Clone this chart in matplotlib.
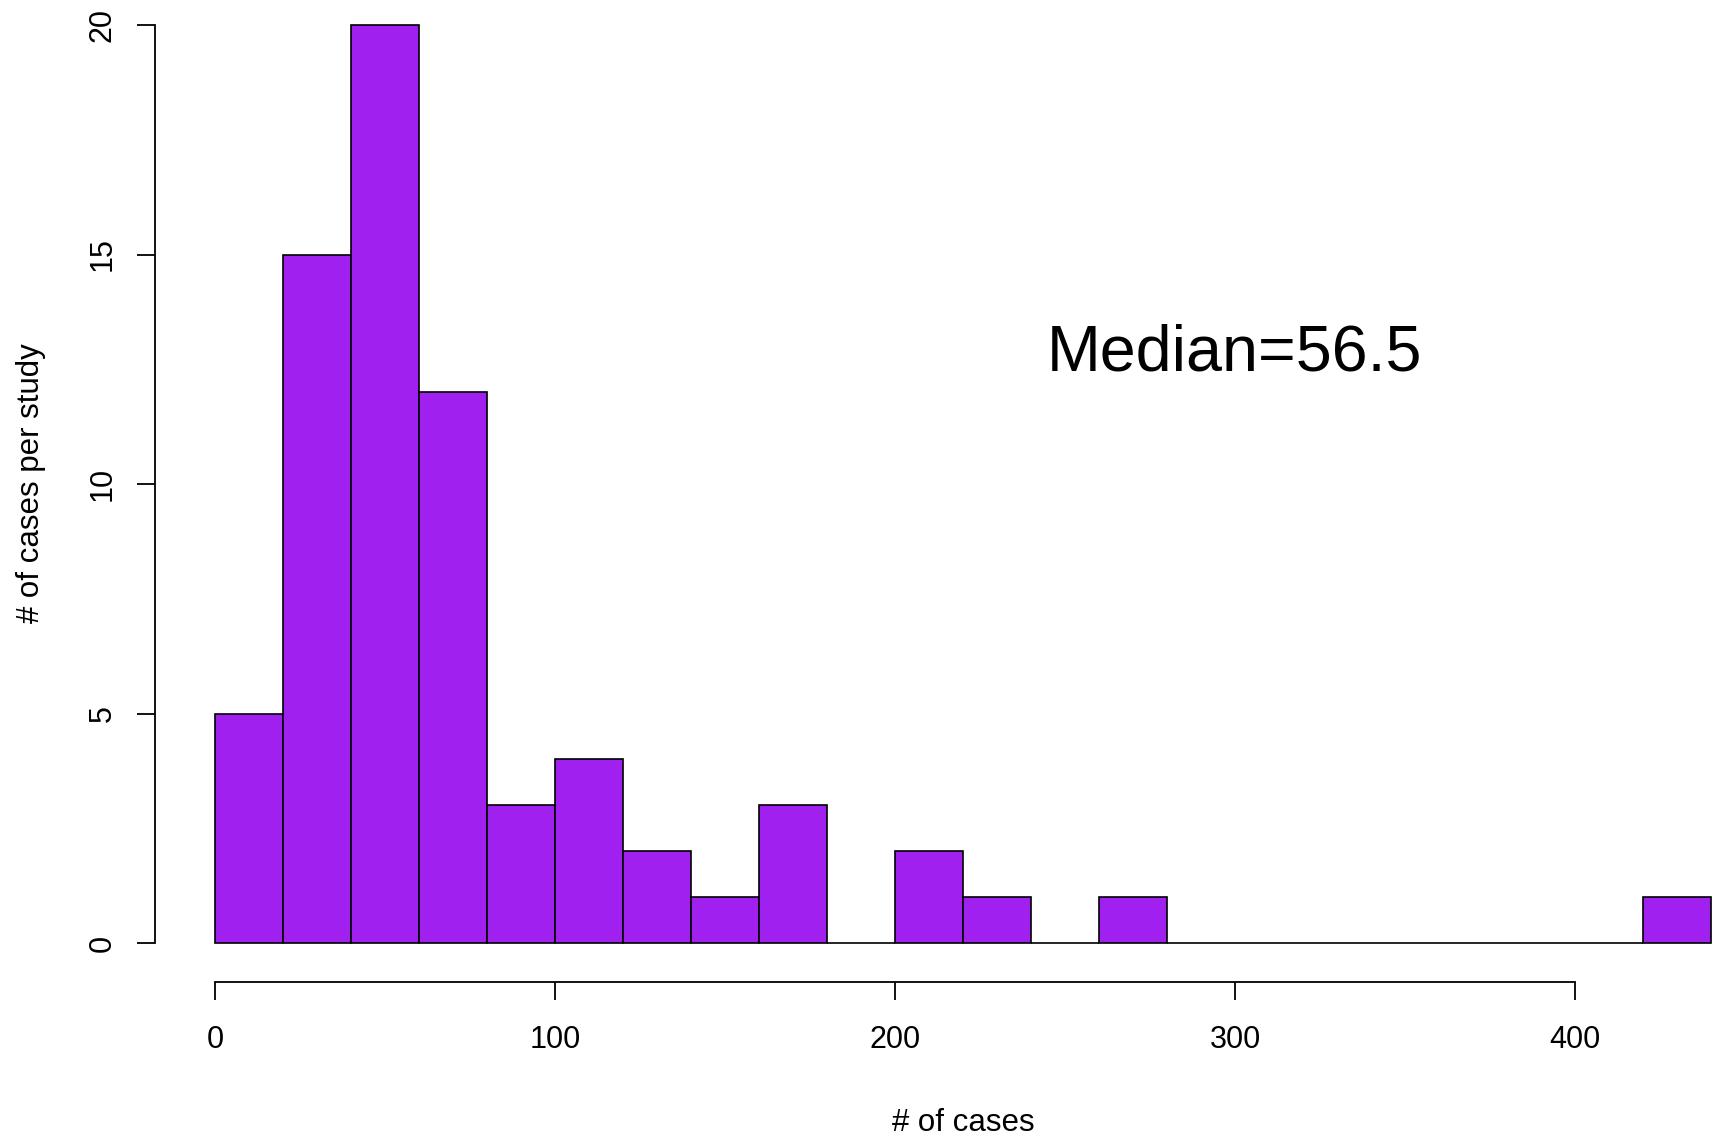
import numpy as np
import matplotlib.pyplot as plt

plt.rcParams['font.family'] = ['Liberation Sans', 'DejaVu Sans']

# histogram of cases per study, bins of width 20
bin_edges = [0, 20, 40, 60, 80, 100, 120, 140, 160, 180, 200, 220, 240, 260,
             280, 300, 320, 340, 360, 380, 400, 420, 440]
counts = [5, 15, 20, 12, 3, 4, 2, 1, 3, 0, 2, 1, 0, 1,
          0, 0, 0, 0, 0, 0, 0, 1]
x_ticks = [0, 100, 200, 300, 400]
y_ticks = [0, 5, 10, 15, 20]
median_text = "Median=56.5"

W, H = 1716, 1136
fig = plt.figure(figsize=(W / 100, H / 100), dpi=100)
left_px, bottom_px = 155, 981.7
ax = fig.add_axes([left_px / W, 1 - bottom_px / H, 1 - left_px / W, bottom_px / H])

# pixel scale: 3.4 px per case, 45.9 px per count
ax.set_xlim(-60 / 3.4, (W - 215) / 3.4)
ax.set_ylim(-(981.7 - 943) / 45.9, 943 / 45.9)

edges = np.array(bin_edges)
ax.bar(edges[:-1], counts, width=np.diff(edges), align='edge',
       color='#A020F0', edgecolor='black', linewidth=1.2, clip_on=False)

ax.text(300, 12.47, median_text, ha='center', va='baseline', fontsize=46.5)

for s in ['top', 'right']:
    ax.spines[s].set_visible(False)
ax.spines['left'].set_bounds(0, 20)
ax.spines['bottom'].set_bounds(0, 400)
for s in ['left', 'bottom']:
    ax.spines[s].set_linewidth(1.3)

ax.set_xticks(x_ticks)
ax.set_yticks(y_ticks)
ax.tick_params(axis='both', length=13, width=1.3, labelsize=22)
ax.tick_params(axis='x', pad=18)
ax.tick_params(axis='y', pad=14, labelrotation=90)
for lab in ax.get_yticklabels():
    lab.set_va('center')

# R centres the labels on the full plot region, which runs past the figure edge
ax.set_xlabel("# of cases", fontsize=22.5, labelpad=38)
ax.xaxis.label.set_x(0.5176)
ax.set_ylabel("# of cases per study", fontsize=22.5, labelpad=30)
ax.yaxis.label.set_y(0.508)

fig.savefig("out.png", dpi=100)
